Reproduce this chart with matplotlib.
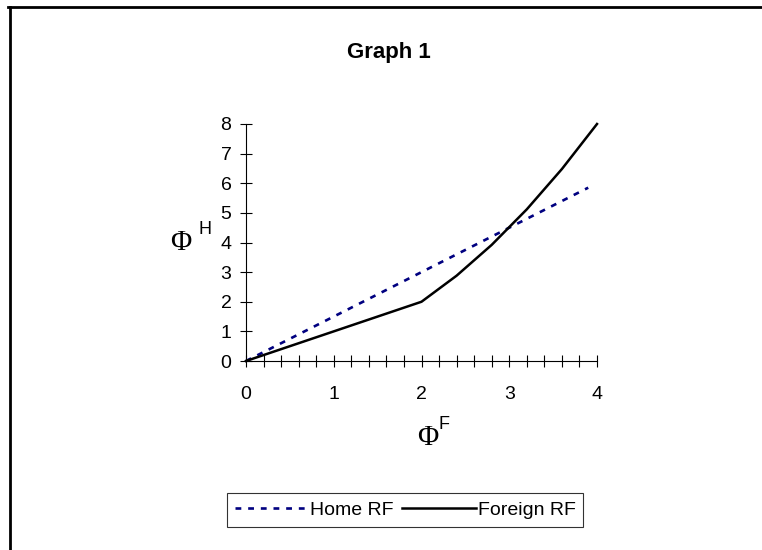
import matplotlib
matplotlib.use("Agg")
import matplotlib.pyplot as plt
from matplotlib.lines import Line2D
from matplotlib.ticker import MultipleLocator

plt.rcParams['font.family'] = ['Liberation Sans', 'DejaVu Sans']

# data
home_x = [0, 3.9]
home_y = [0, 5.85]
foreign_x = [0, 0.4, 0.8, 1.2, 1.6, 2.0, 2.4, 2.8, 3.2, 3.6, 4.0]
foreign_y = [0, 0.4, 0.8, 1.2, 1.6, 2.0, 2.88, 3.92, 5.12, 6.48, 8.0]
x_ticks = [0, 1, 2, 3, 4]
y_ticks = [0, 1, 2, 3, 4, 5, 6, 7, 8]

W, H = 762, 550
fig = plt.figure(figsize=(W / 100, H / 100), dpi=100)

# outer chart frame (top and left edges visible)
fig.add_artist(Line2D([8 / W, 1], [1 - 7 / H, 1 - 7 / H], color='black', lw=2, transform=fig.transFigure))
fig.add_artist(Line2D([9.5 / W, 9.5 / W], [0, 1 - 7 / H], color='black', lw=2, transform=fig.transFigure))

left, right = 246 / W, 597 / W
bottom, top = 1 - 361 / H, 1 - 124 / H
ax = fig.add_axes([left, bottom, right - left, top - bottom])

ax.plot(home_x, home_y, color='#000080', lw=1.9, linestyle=(0, (2.2, 2.6)),
        clip_on=False, label='Home RF')
ax.plot(foreign_x, foreign_y, color='black', lw=1.8, clip_on=False,
        label='Foreign RF')

ax.set_xlim(0, 4)
ax.set_ylim(0, 8)
ax.set_xticks(x_ticks)
ax.set_yticks(y_ticks)
ax.xaxis.set_minor_locator(MultipleLocator(0.2))
for s in ['top', 'right']:
    ax.spines[s].set_visible(False)
for s in ['left', 'bottom']:
    ax.spines[s].set_linewidth(0.8)
ax.tick_params(axis='x', which='both', direction='inout', length=9, width=0.8)
ax.tick_params(axis='x', which='major', pad=13.5, labelsize=14)
ax.tick_params(axis='y', which='major', direction='inout', length=9, width=0.8,
               pad=6, labelsize=14)

fig.text(389 / W, 1 - 58 / H, 'Graph 1', ha='center', va='baseline',
         fontsize=16, fontweight='bold')


def phi_label(cx, base_y, sup, sup_dx):
    fig.text(cx / W, 1 - base_y / H, '\u03a6', ha='center', va='baseline',
             fontsize=21, family='Liberation Serif')
    fig.text((cx + sup_dx) / W, 1 - (base_y - 29) / H, sup, ha='left', va='top',
             fontsize=13)


phi_label(181, 250, 'H', 17)
phi_label(428, 445, 'F', 11)

leg = fig.legend(loc='center', bbox_to_anchor=(405 / W, 1 - 510 / H), ncol=2,
                 frameon=True, fancybox=False, edgecolor='black', fontsize=14,
                 handlelength=3.8, handletextpad=0.1, columnspacing=0.4,
                 borderpad=0.4, borderaxespad=0)
leg.get_frame().set_linewidth(0.8)

fig.savefig('out.png', dpi=100)
